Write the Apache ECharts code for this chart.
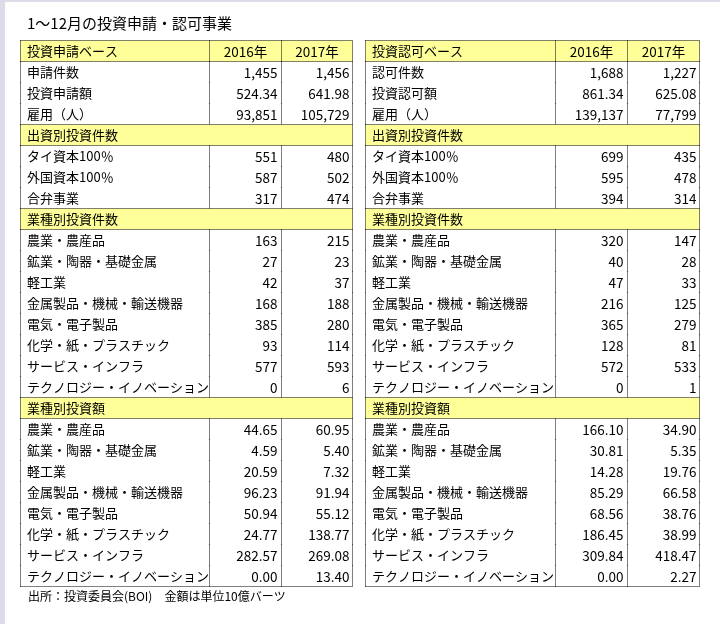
<!DOCTYPE html>
<html>
<head>
<meta charset="utf-8">
<script src="https://cdn.jsdelivr.net/npm/echarts@6/dist/echarts.min.js"></script>
<style>
  html, body { margin: 0; padding: 0; background: #fff; }
  #chart { width: 720px; height: 624px; }
  .edge { position: absolute; background: #dcdce8; }
</style>
</head>
<body>
<div id="chart"></div>
<div class="edge" style="left:0;top:0;width:5px;height:624px"></div>
<div class="edge" style="left:0;top:0;width:720px;height:2px"></div>
<script>
// 見出し
const years = ['2016年', '2017年'];
const applyTitle = '投資申請ベース';
const approveTitle = '投資認可ベース';
const sectionTitles = ['出資別投資件数', '業種別投資件数', '業種別投資額'];

const applyBaseLabels = ['申請件数', '投資申請額', '雇用（人）'];
const approveBaseLabels = ['認可件数', '投資認可額', '雇用（人）'];
const capitalLabels = ['タイ資本100％', '外国資本100％', '合弁事業'];
const industryLabels = ['農業・農産品', '鉱業・陶器・基礎金属', '軽工業', '金属製品・機械・輸送機器',
  '電気・電子製品', '化学・紙・プラスチック', 'サービス・インフラ', 'テクノロジー・イノベーション'];

// 投資申請
const applyBase2016 = [1455, 524.34, 93851];
const applyBase2017 = [1456, 641.98, 105729];
const applyCap2016 = [551, 587, 317];
const applyCap2017 = [480, 502, 474];
const applyInd2016 = [163, 27, 42, 168, 385, 93, 577, 0];
const applyInd2017 = [215, 23, 37, 188, 280, 114, 593, 6];
const applyAmt2016 = [44.65, 4.59, 20.59, 96.23, 50.94, 24.77, 282.57, 0.00];
const applyAmt2017 = [60.95, 5.40, 7.32, 91.94, 55.12, 138.77, 269.08, 13.40];

// 投資認可
const approveBase2016 = [1688, 861.34, 139137];
const approveBase2017 = [1227, 625.08, 77799];
const approveCap2016 = [699, 595, 394];
const approveCap2017 = [435, 478, 314];
const approveInd2016 = [320, 40, 47, 216, 365, 128, 572, 0];
const approveInd2017 = [147, 28, 33, 125, 279, 81, 533, 1];
const approveAmt2016 = [166.10, 30.81, 14.28, 85.29, 68.56, 186.45, 309.84, 0.00];
const approveAmt2017 = [34.90, 5.35, 19.76, 66.58, 38.76, 38.99, 418.47, 2.27];

const baseFormats = ['int', 'dec', 'int'];
const FONT = '"Noto Sans CJK JP", "Noto Sans", sans-serif';
const YELLOW = '#ffff99';
const colEdges = [0, 57, 78.5, 100]; // x軸(0-100)上の列境界

function fmt(v, kind) {
  return kind === 'dec' ? v.toFixed(2) : v.toLocaleString('en-US');
}

function buildRows(title, baseLabels, b16, b17, c16, c17, i16, i17, a16, a17) {
  const rows = [{ kind: 'header', label: title }];
  baseLabels.forEach((l, k) => rows.push({ kind: 'data', label: l, v: [fmt(b16[k], baseFormats[k]), fmt(b17[k], baseFormats[k])] }));
  rows.push({ kind: 'section', label: sectionTitles[0] });
  capitalLabels.forEach((l, k) => rows.push({ kind: 'data', label: l, v: [fmt(c16[k]), fmt(c17[k])] }));
  rows.push({ kind: 'section', label: sectionTitles[1] });
  industryLabels.forEach((l, k) => rows.push({ kind: 'data', label: l, v: [fmt(i16[k]), fmt(i17[k])] }));
  rows.push({ kind: 'section', label: sectionTitles[2] });
  industryLabels.forEach((l, k) => rows.push({ kind: 'data', label: l, v: [fmt(a16[k], 'dec'), fmt(a17[k], 'dec')] }));
  return rows;
}

const applyRows = buildRows(applyTitle, applyBaseLabels, applyBase2016, applyBase2017,
  applyCap2016, applyCap2017, applyInd2016, applyInd2017, applyAmt2016, applyAmt2017);
const approveRows = buildRows(approveTitle, approveBaseLabels, approveBase2016, approveBase2017,
  approveCap2016, approveCap2017, approveInd2016, approveInd2017, approveAmt2016, approveAmt2017);

function dotted(x1, y1, x2, y2) {
  return { type: 'line', shape: { x1, y1, x2, y2 }, style: { stroke: '#000', lineWidth: 1, lineDash: [1, 1] } };
}
function txt(text, x, y, align, size) {
  return { type: 'text', style: { text, x, y, align, verticalAlign: 'middle', fontSize: size || 13.5, fontFamily: FONT, fill: '#000' } };
}

function renderTable(rows) {
  return function (params, api) {
    const i = params.dataIndex;
    const r = rows[i];
    const c = api.coord([0, i]);
    const h = api.size([0, 1])[1];
    const px = v => Math.round(api.coord([v, i])[0] - 0.5) + 0.5;
    const [x0, x1, x2, x3] = colEdges.map(px);
    const yTop = Math.round(c[1] - h / 2 - 0.5) + 0.5;
    const yBot = yTop + h;
    const yMid = yTop + h / 2 + 0.5;
    const kids = [];
    const yellow = r.kind !== 'data';
    if (yellow) {
      kids.push({ type: 'rect', shape: { x: x0, y: yTop, width: x3 - x0, height: h }, style: { fill: YELLOW } });
    }
    kids.push(txt(r.label, x0 + 6.5, yMid, 'left', 13));
    if (r.kind === 'header') {
      kids.push(txt(years[0], (x1 + x2) / 2, yMid, 'center'));
      kids.push(txt(years[1], (x2 + x3) / 2, yMid, 'center'));
    } else if (r.kind === 'data') {
      kids.push(txt(r.v[0], x2 - 4, yMid, 'right'));
      kids.push(txt(r.v[1], x3 - 3, yMid, 'right'));
    }
    kids.push(dotted(x0, yTop, x0, yBot));
    kids.push(dotted(x3, yTop, x3, yBot));
    if (r.kind !== 'section') {
      kids.push(dotted(x1, yTop, x1, yBot));
      kids.push(dotted(x2, yTop, x2, yBot));
    }
    if (yellow) {
      kids.push(dotted(x0, yTop, x3, yTop));
      kids.push(dotted(x0, yBot, x3, yBot));
    }
    if (i === rows.length - 1) kids.push(dotted(x0, yBot, x3, yBot));
    return { type: 'group', children: kids };
  };
}

const chart = echarts.init(document.getElementById('chart'));
const rowIdx = applyRows.map((r, i) => i);

chart.setOption({
  animation: false,
  title: [
    { text: '1～12月の投資申請・認可事業', left: 27, top: 16, padding: 0,
      textStyle: { fontSize: 15, fontWeight: 'normal', color: '#000', fontFamily: FONT } },
    { text: '出所：投資委員会(BOI)　金額は単位10億バーツ', left: 28, top: 590, padding: 0,
      textStyle: { fontSize: 12, fontWeight: 'normal', color: '#000', fontFamily: FONT } }
  ],
  grid: [
    { left: 20.5, top: 40.5, width: 332, height: 546 },
    { left: 365, top: 40.5, width: 334, height: 546 }
  ],
  xAxis: [
    { type: 'value', gridIndex: 0, min: 0, max: 100, show: false },
    { type: 'value', gridIndex: 1, min: 0, max: 100, show: false }
  ],
  yAxis: [
    { type: 'category', gridIndex: 0, data: rowIdx, inverse: true, show: false },
    { type: 'category', gridIndex: 1, data: rowIdx, inverse: true, show: false }
  ],
  series: [
    { type: 'custom', xAxisIndex: 0, yAxisIndex: 0, encode: { x: 0, y: 1 },
      data: applyRows.map((r, i) => [0, i]), renderItem: renderTable(applyRows) },
    { type: 'custom', xAxisIndex: 1, yAxisIndex: 1, encode: { x: 0, y: 1 },
      data: approveRows.map((r, i) => [0, i]), renderItem: renderTable(approveRows) }
  ]
});
</script>
</body>
</html>
